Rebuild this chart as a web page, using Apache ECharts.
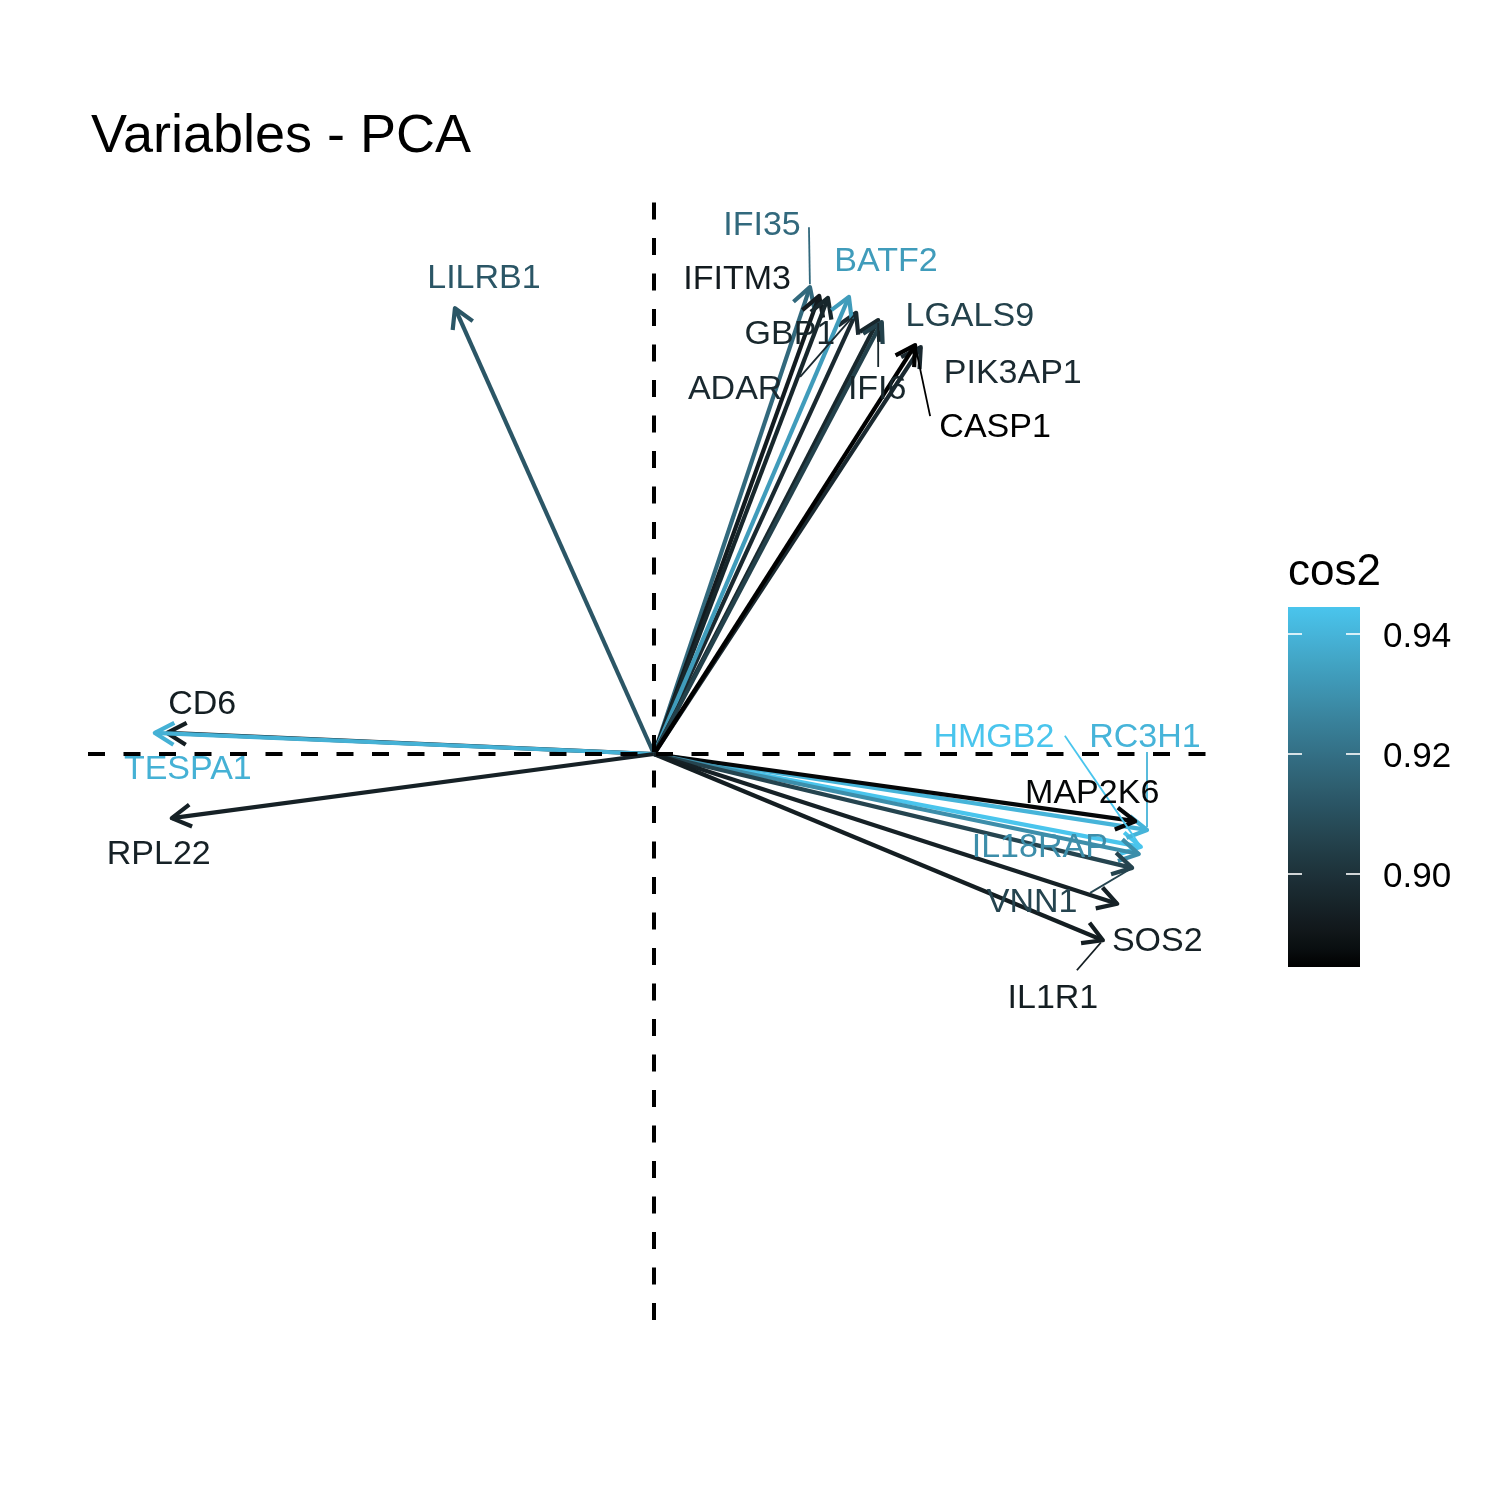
<!DOCTYPE html>
<html><head><meta charset="utf-8">
<script src="https://cdn.jsdelivr.net/npm/echarts@6/dist/echarts.min.js"></script>
<style>html,body{margin:0;padding:0;background:#fff}#c{width:1500px;height:1500px}</style>
</head><body><div id="c"></div>
<script>
// ---- data ----
const variables = ['LILRB1','IFI35','IFITM3','GBP1','ADAR','BATF2','IFI6','LGALS9','PIK3AP1','CASP1',
                   'CD6','TESPA1','RPL22','HMGB2','RC3H1','MAP2K6','IL18RAP','VNN1','SOS2','IL1R1'];
const dim1 = [-0.388, 0.304, 0.322, 0.339, 0.394, 0.380, 0.437, 0.444, 0.520, 0.509,
              -0.949, -0.973, -0.940, 0.949, 0.961, 0.938, 0.945, 0.932, 0.903, 0.875];
const dim2 = [0.869, 0.910, 0.893, 0.889, 0.860, 0.891, 0.846, 0.842, 0.793, 0.797,
              0.041, 0.041, -0.125, -0.181, -0.148, -0.131, -0.195, -0.222, -0.292, -0.363];
const cos2 = [0.912, 0.918, 0.892, 0.896, 0.897, 0.933, 0.896, 0.905, 0.897, 0.8845,
              0.893, 0.939, 0.894, 0.9445, 0.940, 0.886, 0.929, 0.906, 0.894, 0.893];
const legendTicks = [0.90, 0.92, 0.94];
const cos2Range = [0.8845, 0.9445];
const xRange = [-1.1033, 1.0838];
const yRange = [-1.1033, 1.0799];

// ---- layout (label placement, px offsets from arrow tip) ----
const labelOffsets = [[29,-33],[-48,-65],[-82,-19],[-38,34],[-121,74],[37,-38],[-1,67],[88,-8],[92,23],[80,79],
                      [35,-31],[33,34],[-13,34],[-147,-112],[-2,-95],[-43,-31],[-99,-9],[-100,32],[40,35],[-50,55]];
const segmentStarts = [null,[-1,-60],null,null,[-56,64],null,[0,47],null,null,[15,71],
                       null,null,null,[-76,-111],[0,-78],null,null,[-42,25],null,[-26,30]];
const TEXT_NUDGE = 3;

// ---- colour gradient (Lab interpolation black -> light blue) ----
function s2l(c){c/=255;return c<=0.04045?c/12.92:Math.pow((c+0.055)/1.055,2.4);}
function l2s(v){v=Math.max(0,Math.min(1,v));const c=v<=0.0031308?12.92*v:1.055*Math.pow(v,1/2.4)-0.055;return Math.round(Math.max(0,Math.min(1,c))*255);}
function rgb2lab(rgb){const R=s2l(rgb[0]),G=s2l(rgb[1]),B=s2l(rgb[2]);
  const X=(0.4124*R+0.3576*G+0.1805*B)/0.95047,Y=0.2126*R+0.7152*G+0.0722*B,Z=(0.0193*R+0.1192*G+0.9505*B)/1.08883;
  const f=t=>t>0.008856?Math.cbrt(t):7.787*t+16/116;const fx=f(X),fy=f(Y),fz=f(Z);
  return [116*fy-16,500*(fx-fy),200*(fy-fz)];}
function lab2rgb(lab){const fy=(lab[0]+16)/116,fx=fy+lab[1]/500,fz=fy-lab[2]/200;
  const fi=t=>t*t*t>0.008856?t*t*t:(t-16/116)/7.787;
  const X=fi(fx)*0.95047,Y=fi(fy),Z=fi(fz)*1.08883;
  const R=3.2406*X-1.5372*Y-0.4986*Z,G=-0.9689*X+1.8758*Y+0.0415*Z,B=0.0557*X-0.2040*Y+1.0570*Z;
  return 'rgb('+l2s(R)+','+l2s(G)+','+l2s(B)+')';}
const lowLab = rgb2lab([0,0,0]), highLab = rgb2lab([74,197,237]);
const gradColors = [];
for (let k=0;k<=20;k++){const t=k/20;gradColors.push(lab2rgb([0,1,2].map(j=>lowLab[j]+(highLab[j]-lowLab[j])*t)));}

const arrowData = variables.map((v,i)=>[dim1[i],dim2[i],cos2[i],i]);
const FONT = 'Liberation Sans, Arial, sans-serif';

const chart = echarts.init(document.getElementById('c'), null, {renderer:'canvas'});
chart.setOption({
  animation:false,
  backgroundColor:'#fff',
  title:[
    {text:'Variables - PCA', left:86, top:105, textStyle:{fontSize:54, fontWeight:'normal', color:'#000', fontFamily:FONT}},
    {text:'cos2', left:1283, top:546, textStyle:{fontSize:44, fontWeight:'normal', color:'#000', fontFamily:FONT}}
  ],
  grid:[
    {left:88, top:200, width:1122, height:1120},
    {left:1288, top:607, width:72, height:360}
  ],
  xAxis:[
    {type:'value', gridIndex:0, min:xRange[0], max:xRange[1], show:false},
    {type:'value', gridIndex:1, min:0, max:1, show:false}
  ],
  yAxis:[
    {type:'value', gridIndex:0, min:yRange[0], max:yRange[1], show:false},
    {type:'value', gridIndex:1, min:cos2Range[0], max:cos2Range[1], show:false}
  ],
  visualMap:{type:'continuous', show:false, seriesIndex:[1,2], dimension:2,
    min:cos2Range[0], max:cos2Range[1], inRange:{color:gradColors}},
  series:[
    {type:'line', data:[], xAxisIndex:0, yAxisIndex:0, z:1,
     markLine:{silent:true, symbol:['none','none'], label:{show:false},
       lineStyle:{color:'#000', width:4, type:[17,18.5]},
       emphasis:{disabled:true},
       data:[{xAxis:0},{yAxis:0}]}},
    {type:'custom', name:'arrows', xAxisIndex:0, yAxisIndex:0, z:2, data:arrowData,
     renderItem:function(params, api){
       const o=api.coord([0,0]), t=api.coord([api.value(0),api.value(1)]);
       const col=api.visual('color');
       const ang=Math.atan2(t[1]-o[1],t[0]-o[0]), L=22, a=Math.PI/6;
       const p1=[t[0]-L*Math.cos(ang-a),t[1]-L*Math.sin(ang-a)];
       const p2=[t[0]-L*Math.cos(ang+a),t[1]-L*Math.sin(ang+a)];
       return {type:'group', children:[
         {type:'line', shape:{x1:o[0],y1:o[1],x2:t[0],y2:t[1]}, style:{stroke:col,lineWidth:4.2,lineCap:'butt'}},
         {type:'polyline', shape:{points:[p1,t,p2]}, style:{stroke:col,fill:null,lineWidth:4.2,lineJoin:'round',lineCap:'butt'}}
       ]};
     }},
    {type:'custom', name:'labels', xAxisIndex:0, yAxisIndex:0, z:3, data:arrowData,
     renderItem:function(params, api){
       const i=api.value(3);
       const t=api.coord([api.value(0),api.value(1)]);
       const col=api.visual('color');
       const off=labelOffsets[i], seg=segmentStarts[i];
       const children=[];
       if(seg){
         const sx=t[0]+seg[0], sy=t[1]+seg[1];
         const dx=t[0]-sx, dy=t[1]-sy, d=Math.hypot(dx,dy);
         children.push({type:'line', shape:{x1:sx,y1:sy,x2:t[0]-dx/d*3,y2:t[1]-dy/d*3}, style:{stroke:col,lineWidth:1.8}});
       }
       children.push({type:'text', style:{text:variables[i], x:t[0]+off[0], y:t[1]+off[1]+TEXT_NUDGE,
         align:'center', verticalAlign:'middle', fill:col, fontSize:34, fontFamily:FONT}});
       return {type:'group', children:children};
     }},
    {type:'custom', name:'legendBar', xAxisIndex:1, yAxisIndex:1, z:2, data:[[0,cos2Range[0]]],
     renderItem:function(params, api){
       const tl=api.coord([0,cos2Range[1]]), br=api.coord([1,cos2Range[0]]);
       const stops=gradColors.map((c,k)=>({offset:1-k/20,color:c})).reverse();
       return {type:'rect', shape:{x:tl[0],y:tl[1],width:br[0]-tl[0],height:br[1]-tl[1]},
         style:{fill:new echarts.graphic.LinearGradient(0,0,0,1,stops)}};
     }},
    {type:'custom', name:'legendTicks', xAxisIndex:1, yAxisIndex:1, z:3, data:legendTicks.map(v=>[0,v]),
     renderItem:function(params, api){
       const v=api.value(1);
       const l=api.coord([0,v]), r=api.coord([1,v]);
       return {type:'group', children:[
         {type:'line', shape:{x1:l[0],y1:l[1],x2:l[0]+14,y2:l[1]}, style:{stroke:'#fff',lineWidth:1.6}},
         {type:'line', shape:{x1:r[0]-14,y1:r[1],x2:r[0],y2:r[1]}, style:{stroke:'#fff',lineWidth:1.6}},
         {type:'text', style:{text:v.toFixed(2), x:r[0]+23, y:l[1]+TEXT_NUDGE, align:'left', verticalAlign:'middle',
           fill:'#000', fontSize:35, fontFamily:FONT}}
       ]};
     }}
  ]
});
</script>
</body></html>
